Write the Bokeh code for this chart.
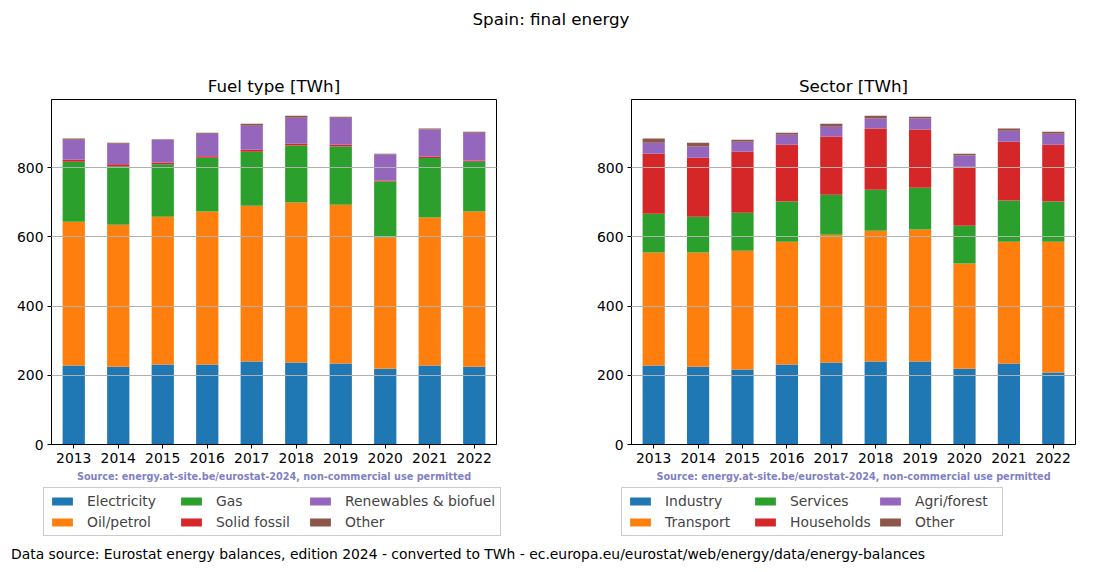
from bokeh.plotting import figure
from bokeh.models import Range1d, FactorRange, Legend, LegendItem, Div, SingleIntervalTicker
from bokeh.layouts import column, row
from bokeh.embed import file_html
from bokeh.resources import INLINE

years = ["2013", "2014", "2015", "2016", "2017", "2018", "2019", "2020", "2021", "2022"]

# Fuel type [TWh]
electricity = [228, 225, 231, 231, 240, 237, 234, 219, 228, 225]
oil_petrol = [416, 410, 427, 442, 450, 462, 459, 379, 428, 448]
gas = [173, 169, 152, 156, 156, 165, 168, 162, 172, 144]
solid_fossil = [6, 6, 5, 4, 6, 5, 5, 3, 4, 3]
renewables = [58, 59, 66, 65, 69, 75, 78, 75, 78, 81]
other_fuel = [3, 3, 1, 3, 6, 6, 3, 2, 3, 3]

# Sector [TWh]
industry = [228, 225, 217, 231, 237, 240, 240, 219, 234, 208]
transport = [327, 330, 343, 355, 369, 378, 381, 304, 352, 378]
services = [112, 103, 110, 116, 116, 118, 121, 109, 119, 116]
households = [173, 171, 176, 164, 168, 177, 168, 171, 170, 164]
agri_forest = [32, 32, 29, 29, 28, 29, 32, 32, 32, 32]
other_sector = [12, 11, 6, 6, 9, 8, 5, 5, 6, 6]

fuel_names = ["Electricity", "Oil/petrol", "Gas", "Solid fossil", "Renewables & biofuel", "Other"]
sector_names = ["Industry", "Transport", "Services", "Households", "Agri/forest", "Other"]
colors = ["#1f77b4", "#ff7f0e", "#2ca02c", "#d62728", "#9467bd", "#8c564b"]

FONT = "DejaVu Sans"


def make_plot(title, series, width, bl, br):
    data = {"years": years}
    keys = []
    for i, s in enumerate(series):
        k = "s%d" % i
        data[k] = s
        keys.append(k)
    p = figure(x_range=FactorRange(*years, range_padding=0), y_range=Range1d(0, 997),
               width=width, height=436, min_border_left=bl, min_border_right=br,
               min_border_top=49, min_border_bottom=42,
               output_backend="svg", toolbar_location=None, title=title)
    p.vbar_stack(keys, x="years", width=0.5, color=colors, source=data, line_width=0)
    p.title.align = "center"
    p.title.text_font = FONT
    p.title.text_font_size = "16.7px"
    p.title.text_font_style = "normal"
    p.title.text_color = "black"
    p.title.standoff = 8
    p.outline_line_color = "black"
    p.outline_line_width = 1
    p.outline_line_alpha = 1
    p.xgrid.grid_line_color = None
    p.ygrid.grid_line_color = "#b0b0b0"
    p.ygrid.grid_line_width = 1
    p.ygrid.level = "overlay"
    p.yaxis.ticker = SingleIntervalTicker(interval=200)
    for ax in (p.xaxis[0], p.yaxis[0]):
        ax.major_label_text_font = FONT
        ax.major_label_text_font_size = "13.9px"
        ax.major_label_text_color = "black"
        ax.major_tick_in = 0
        ax.major_tick_out = 4
        ax.minor_tick_out = 0
        ax.minor_tick_in = 0
        ax.major_label_standoff = 4
        ax.axis_line_color = "black"
    p.xaxis.axis_label = "Source: energy.at-site.be/eurostat-2024, non-commercial use permitted"
    p.xaxis.axis_label_text_font = FONT
    p.xaxis.axis_label_text_font_size = "9.7px"
    p.xaxis.axis_label_text_font_style = "bold"
    p.xaxis.axis_label_text_color = "#7f7fc5"
    p.xaxis.axis_label_standoff = 5
    return p


def make_legend(names, width, x_off, label_width):
    lf = figure(width=width, height=54, x_range=Range1d(0, 1), y_range=Range1d(0, 1),
                x_axis_type=None, y_axis_type=None, min_border=0,
                min_border_left=0, min_border_right=0, min_border_top=0, min_border_bottom=0,
                output_backend="svg", toolbar_location=None)
    lf.outline_line_color = None
    lf.xgrid.visible = False
    lf.ygrid.visible = False
    # legend-only glyphs, placed outside the visible range
    rs = [lf.vbar(x=[-10], top=[-10], bottom=[-20], width=0.5, color=c, line_width=0)
          for c in colors]
    items = [LegendItem(label=n, renderers=[r]) for n, r in zip(names, rs)]
    # column-major order like the original, for a row-filled 3-column grid
    order = [0, 2, 4, 1, 3, 5]
    items = [items[i] for i in order]
    leg = Legend(items=items, location=(x_off, 4), ncols=3, orientation="horizontal",
                 label_text_font=FONT, label_text_font_size="13.9px",
                 glyph_width=26, glyph_height=10, label_height=16, label_width=label_width,
                 spacing=5, padding=5, label_standoff=12,
                 border_line_color="#cccccc", border_line_alpha=1, border_line_width=1,
                 margin=0, background_fill_alpha=1)
    lf.add_layout(leg, "center")
    return lf


p1 = make_plot("Fuel type [TWh]",
               [electricity, oil_petrol, gas, solid_fossil, renewables, other_fuel],
               568, 51, 72)
p2 = make_plot("Sector [TWh]",
               [industry, transport, services, households, agri_forest, other_sector],
               524, 63, 17)
l1 = make_legend(fuel_names, 568, 43, 86)
l2 = make_legend(sector_names, 524, 53, 82)

title_div = Div(text="Spain: final energy", width=1092, height=40,
                styles={"font-family": FONT, "font-size": "16.7px", "text-align": "center",
                        "width": "1092px", "padding-top": "3px", "color": "black"})
foot_div = Div(text="Data source: Eurostat energy balances, edition 2024 - converted to TWh - ec.europa.eu/eurostat/web/energy/data/energy-balances",
               width=1092, height=24,
               styles={"font-family": FONT, "font-size": "13.9px", "padding-left": "6px",
                       "color": "black", "white-space": "nowrap"})

layout = column(title_div, row(p1, p2, spacing=0), row(l1, l2, spacing=0), foot_div, spacing=0)
open("out.html", "w").write(file_html(layout, INLINE))
